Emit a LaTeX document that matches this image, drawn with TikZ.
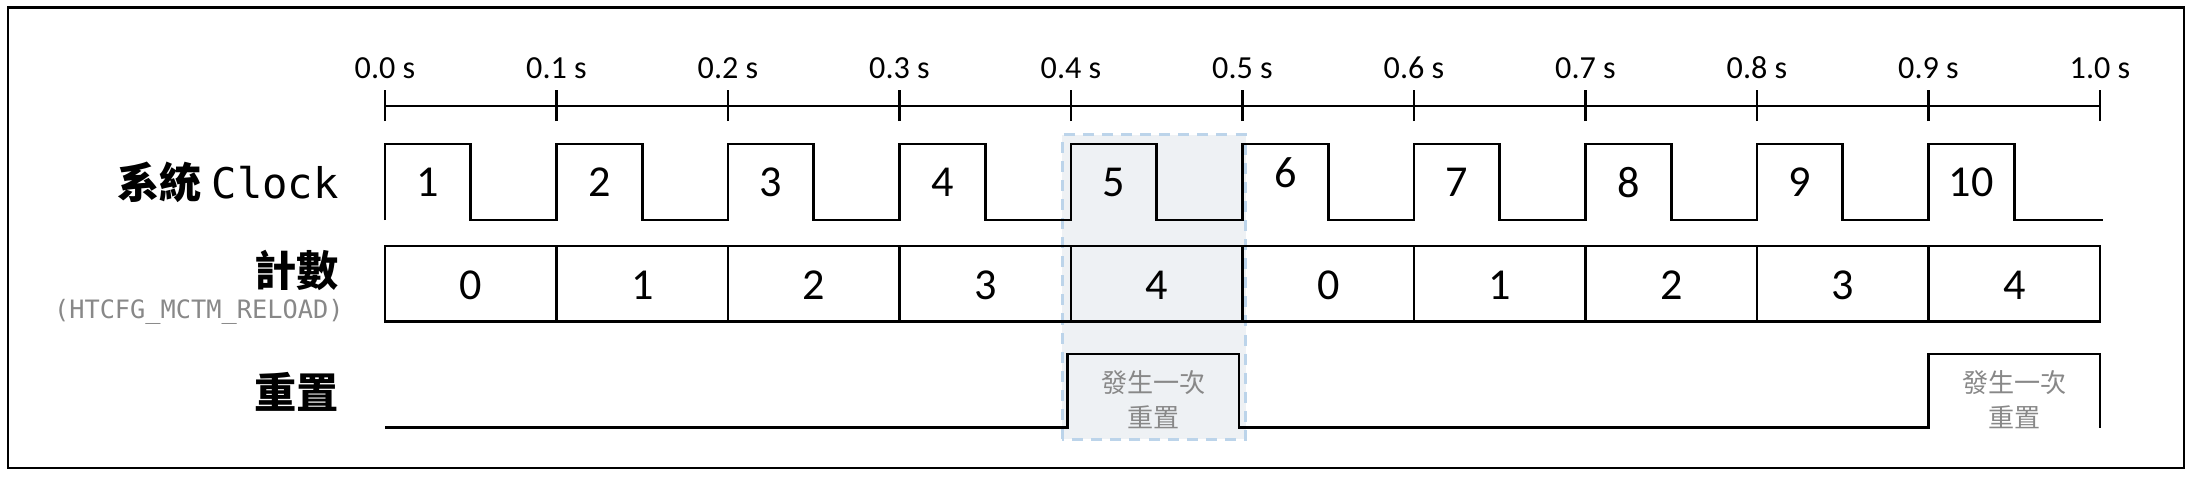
\documentclass[tikz,border=0pt]{standalone}
\usepackage{fontspec}
\setmainfont{Carlito}
\newfontfamily\cjk{Noto Sans CJK TC}
\newfontfamily\mono{DejaVu Sans Mono}
\definecolor{hlfill}{HTML}{EEF1F4}
\definecolor{hlline}{HTML}{BCD4EA}
\definecolor{notegray}{HTML}{888888}

\tikzset{
  wave/.style={line width=1.3pt},
  rowlabel/.style={anchor=east, inner sep=0pt, font=\cjk\bfseries\fontsize{21}{24}\selectfont},
  ticklabel/.style={font=\fontsize{16}{18}\selectfont},
  num/.style={font=\fontsize{22}{24}\selectfont},
  note/.style={font=\cjk\fontsize{13}{17.4}\selectfont, text=notegray, align=center}
}

\begin{document}
\begin{tikzpicture}[x=3cm,y=3cm]
\useasboundingbox (-2.245,-0.283) rectangle (10.525,2.493);
% Frame
\draw[line width=1.2pt] (-2.2,-0.236) rectangle (10.49,2.449);

% Highlighted period
\draw[fill=hlfill, draw=hlline, line width=1.5pt, dash pattern=on 5.5pt off 4pt]
  (3.95,-0.067) rectangle (5.02,1.706);

% Time axis
\draw[wave] (0,1.875) -- (10,1.875);
\foreach \i/\t in {0/0.0,1/0.1,2/0.2,3/0.3,4/0.4,5/0.5,6/0.6,7/0.7,8/0.8,9/0.9,10/1.0} {
  \draw[wave] (\i,1.787) -- (\i,1.968);
  \node[ticklabel] (t\i) at (\i,2.096) {\t\ s};
}

% Clock
\draw[wave] (0,1.21) \foreach \i in {0,...,9} {
  -- (\i,1.653) -- ({\i+0.5},1.653) -- ({\i+0.5},1.21) -- ({\i+1},1.21)
} -- (10.02,1.21);
\foreach \i in {1,2,3,4,5,7,8,9,10}
  \node[num] (c\i) at ({\i-0.75},1.431) {\i};
\node[num] (c6) at (5.25,1.484) {6};

% Counter
\draw[wave] (0,0.618) rectangle (10,1.058);
\foreach \i in {1,...,9}
  \draw[wave] (\i,0.618) -- (\i,1.058);
\foreach \i/\v in {0/0,1/1,2/2,3/3,4/4,5/0,6/1,7/2,8/3,9/4}
  \node[num] (n\i) at ({\i+0.5},0.831) {\v};

% Reset
\draw[wave] (0,0) -- (3.98,0) -- (3.98,0.429) -- (4.98,0.429) -- (4.98,0)
  -- (9,0) -- (9,0.429) -- (10,0.429) -- (10,0);
\node[note] (r1) at (4.48,0.163) {發生一次\\重置};
\node[note] (r2) at (9.5,0.163) {發生一次\\重置};

% Row labels
\node[rowlabel] (lclk) at (-0.268,1.431) {系統 {\mdseries\mono Clock}};
\node[rowlabel] (lcnt) at (-0.268,0.918) {計數};
\node[anchor=east, inner sep=0pt, text=notegray, font=\mono\fontsize{12.6}{14}\selectfont]
  (lreg) at (-0.239,0.674) {(HTCFG\_MCTM\_RELOAD)};
\node[rowlabel] (lrst) at (-0.268,0.207) {重置};
\end{tikzpicture}
\end{document}
